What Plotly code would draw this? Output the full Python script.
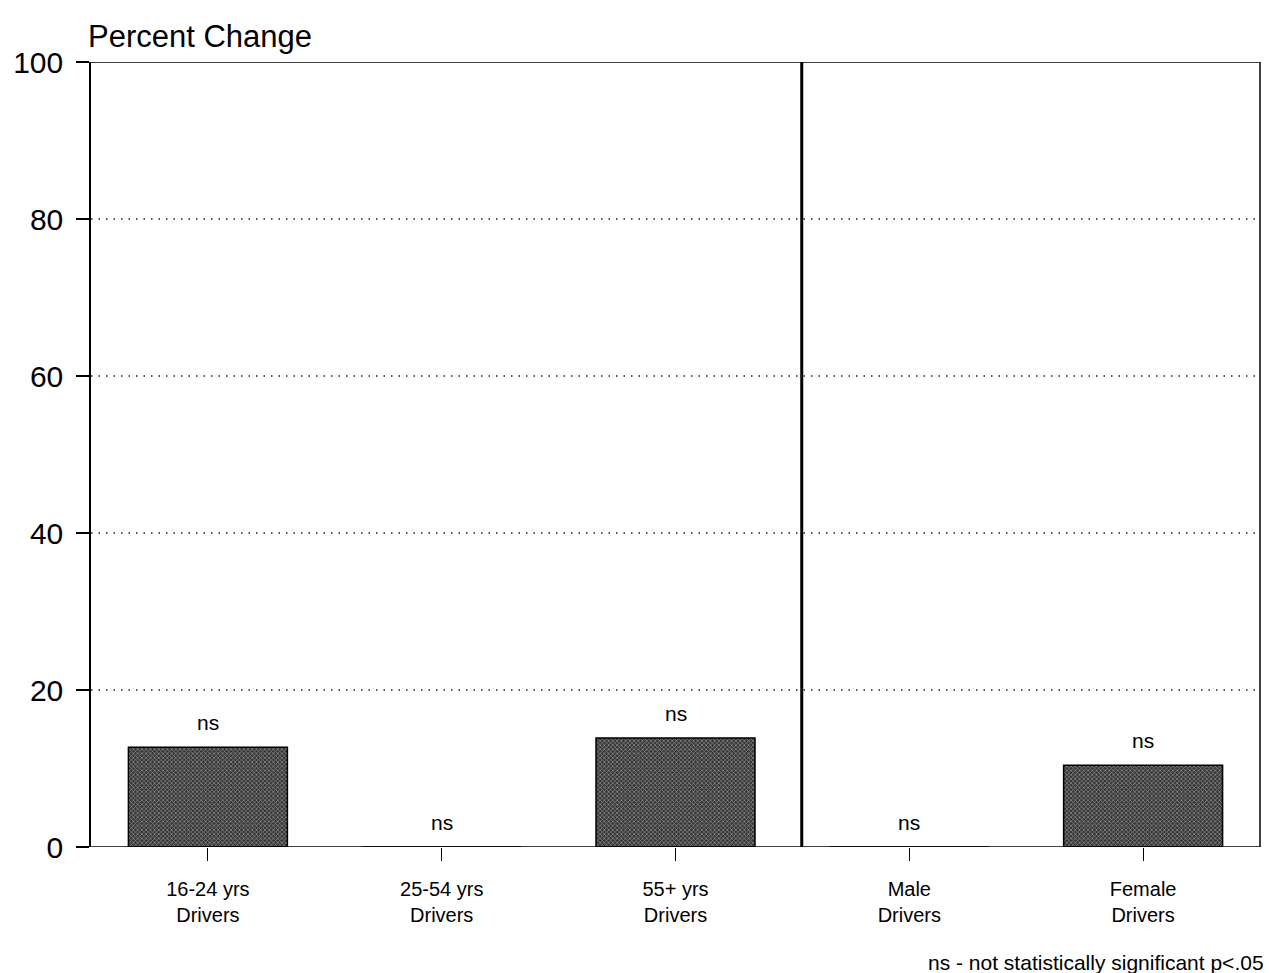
import plotly.graph_objects as go

# Percent change by driver group
categories = ["16-24 yrs<br>Drivers", "25-54 yrs<br>Drivers", "55+ yrs<br>Drivers",
              "Male<br>Drivers", "Female<br>Drivers"]
values = [12.7, 0.0, 13.9, 0.0, 10.4]
sig_labels = ["ns", "ns", "ns", "ns", "ns"]
y_ticks = [0, 20, 40, 60, 80, 100]

FONT = "Liberation Sans, Arial, Helvetica, sans-serif"
xpos = list(range(len(categories)))

fig = go.Figure()
fig.add_trace(go.Bar(
    x=xpos, y=values, width=0.68,
    marker=dict(
        color="#4a4a4a",
        line=dict(color="black", width=1.5),
        pattern=dict(shape="x", bgcolor="#363636", fgcolor="#e6e6e6",
                     size=3, solidity=0.42),
    ),
    hoverinfo="skip", showlegend=False,
))

# significance notes above each bar
for xi, v, s in zip(xpos, values, sig_labels):
    fig.add_annotation(x=xi, y=v, text=s, showarrow=False, yanchor="bottom",
                       yshift=11, font=dict(family=FONT, size=21, color="black"))

# dotted gridlines
for t in y_ticks[1:-1]:
    fig.add_shape(type="line", xref="paper", x0=0, x1=1, y0=t, y1=t,
                  line=dict(color="#222", width=1.3, dash="1.5px,6px"), layer="below")

# divider between age groups and sex groups
fig.add_shape(type="line", x0=2.54, x1=2.54, y0=0, y1=100,
              line=dict(color="black", width=3))

# frame: top and right edges
fig.add_shape(type="line", xref="paper", x0=0, x1=1, y0=100, y1=100,
              line=dict(color="black", width=1.5))
fig.add_shape(type="line", xref="paper", x0=1, x1=1, y0=0, y1=100,
              line=dict(color="black", width=1.5))
# baseline extended left past the axis
fig.add_shape(type="line", xref="paper", x0=-0.011, x1=1, y0=0, y1=0,
              line=dict(color="black", width=1.5))

fig.add_annotation(xref="paper", yref="paper", x=0.0, y=1.0, xanchor="left",
                   yanchor="bottom", xshift=-5, yshift=6, text="Percent Change",
                   showarrow=False, font=dict(family=FONT, size=31, color="black"))

fig.add_annotation(xref="paper", yref="paper", x=1.005, y=-0.1465, xanchor="right",
                   yanchor="middle", text="ns - not statistically significant p<.05",
                   showarrow=False, font=dict(family=FONT, size=21, color="black"))

fig.update_layout(
    width=1269, height=973,
    margin=dict(l=91, r=9, t=62, b=126),
    paper_bgcolor="white", plot_bgcolor="white",
    font=dict(family=FONT, color="black"),
    xaxis=dict(range=[-0.5, 4.5], tickmode="array", tickvals=xpos,
               ticktext=categories, ticks="outside", ticklen=13,
               tickcolor="black", tickwidth=1, showgrid=False, zeroline=False,
               showline=False, ticklabelstandoff=11,
               tickfont=dict(size=20, family=FONT)),
    yaxis=dict(range=[0, 100], tickvals=y_ticks, ticks="outside", ticklen=13,
               tickcolor="black", tickwidth=1.5, showgrid=False, zeroline=False,
               showline=True, linecolor="black", linewidth=1.5,
               ticklabelstandoff=7,
               tickfont=dict(size=30, family=FONT)),
    bargap=0.3,
)

fig.write_html("out.html")
